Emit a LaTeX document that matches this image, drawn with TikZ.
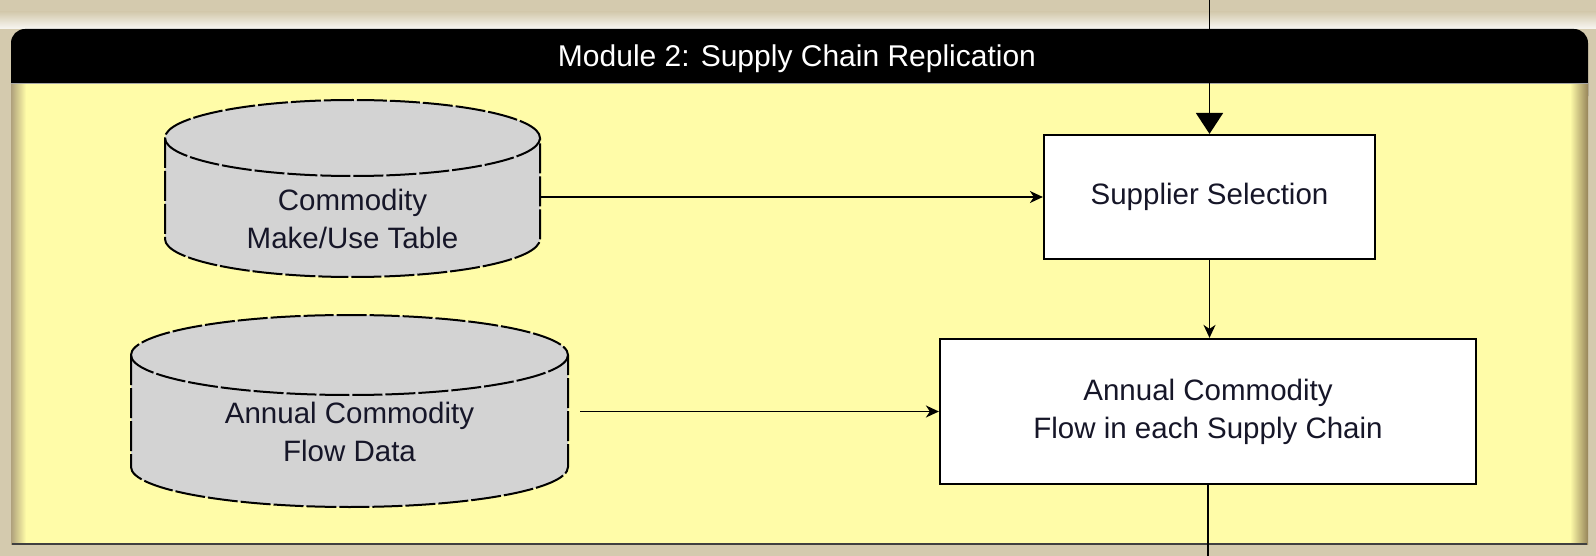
\documentclass[tikz,border=0pt]{standalone}
\usepackage{fontspec}
\setmainfont{Liberation Sans}
\usetikzlibrary{arrows.meta}
\definecolor{beige}{RGB}{212,202,174}
\definecolor{panelyellow}{RGB}{255,252,168}
\definecolor{cylgray}{RGB}{211,211,211}
\definecolor{txt}{RGB}{22,22,40}
\definecolor{shadowtan}{RGB}{150,132,90}
\begin{document}
\begin{tikzpicture}[x=1pt,y=-1pt,
  lbl/.style={font=\fontsize{29.5}{38}\selectfont, text=txt, align=center},
  procbox/.style={lbl, draw=black, line width=2.2pt, fill=white, inner sep=0pt},
  dbslot/.style={lbl, inner sep=0pt},
  cylbody/.style={fill=cylgray, draw=black, line width=2pt, dash pattern=on 30pt off 3pt},
  cylrim/.style={draw=black, line width=2pt, dash pattern=on 30pt off 3pt},
  arr/.style={draw=black, line width=1.9pt, -{Stealth[length=13pt,width=12pt,inset=4pt]}},
  bigarr/.style={draw=black, line width=1.9pt, -{Triangle[length=21pt,width=27pt]}},
  plainline/.style={draw=black, line width=1.9pt},
]
\useasboundingbox (0,0) rectangle (1596,556);
% frame
\fill[beige] (0,0) rectangle (1596,556);
\shade[top color=beige, bottom color=white!85!beige] (0,12) rectangle (1596,29);
% header and panel
\fill[black, rounded corners=14pt] (11,29) rectangle (1588,110);
\fill[panelyellow] (12,84) rectangle (1587,544);
\shade[left color=shadowtan!60!beige, right color=panelyellow] (11,84) rectangle (26,544);
\shade[left color=panelyellow, right color=shadowtan] (1570,84) rectangle (1588,544);
\draw[black!75, line width=2pt] (12,544) -- (1587,544);
\draw[gray!70, line width=1pt] (11,83.5) -- (1588,83.5);
\node[font=\fontsize{30}{36}\selectfont, text=white, anchor=base] (hdr) at (797,67) {Module 2: Supply Chain Replication};
% cylinder 1
\path[cylbody] (165,138) -- (165,239)
  arc[start angle=180,end angle=360,x radius=187.5pt,y radius=38pt]
  -- (540,138)
  arc[start angle=0,end angle=180,x radius=187.5pt,y radius=38pt] -- cycle;
\path[cylrim] (165,138) arc[start angle=180,end angle=360,x radius=187.5pt,y radius=38pt];
\node[dbslot, minimum width=375pt, minimum height=120pt] (c1) at (352.5,219) {Commodity\\Make/Use Table};
% cylinder 2
\path[cylbody] (131,355) -- (131,467)
  arc[start angle=180,end angle=360,x radius=218.5pt,y radius=40pt]
  -- (568,355)
  arc[start angle=0,end angle=180,x radius=218.5pt,y radius=40pt] -- cycle;
\path[cylrim] (131,355) arc[start angle=180,end angle=360,x radius=218.5pt,y radius=40pt];
\node[dbslot, minimum width=437pt, minimum height=120pt] (c2) at (349.5,432) {Annual Commodity\\Flow Data};
% process boxes
\node[procbox, minimum width=331pt, minimum height=124pt] (b1) at (1209.5,197) {Supplier Selection};
\node[procbox, minimum width=536pt, minimum height=145pt] (b2) at (1208,411.5) {Annual Commodity\\Flow in each Supply Chain};
% connectors
\coordinate (topin) at (1209.5,0);
\coordinate (botout) at (1208,556);
\draw[bigarr] (topin) -- (b1.north);
\draw[arr] (b1.south) -- (b1.south |- b2.north);
\draw[plainline] (b2.south) -- (b2.south |- botout);
\draw[arr] (b1.west -| c1.east) -- (b1.west);
\draw[arr, shorten <=12pt] (b2.west -| c2.east) -- (b2.west);
\end{tikzpicture}
\end{document}
